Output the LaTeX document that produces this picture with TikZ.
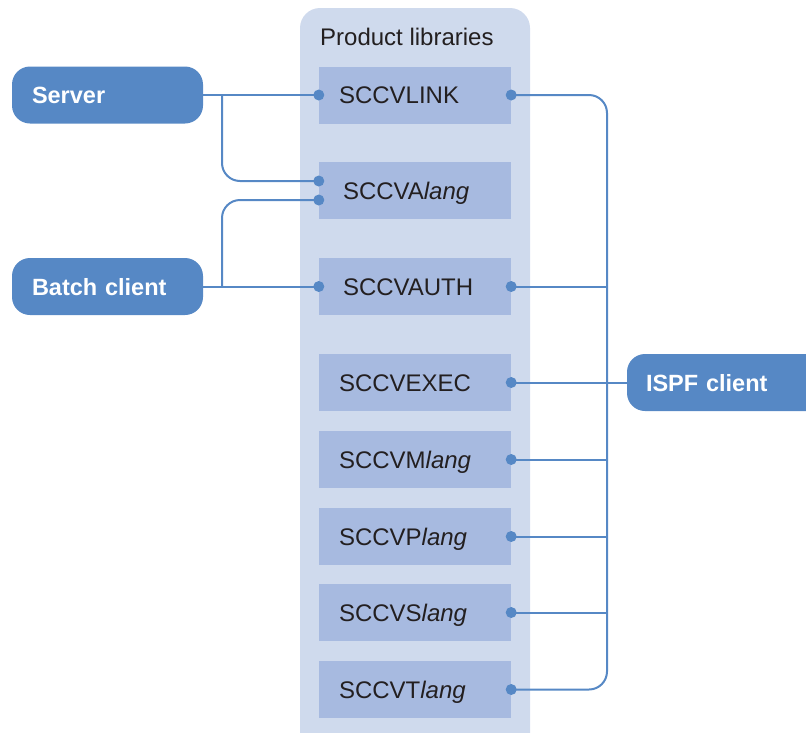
\documentclass[tikz,border=0pt]{standalone}
\usepackage{fontspec}
\setmainfont{Liberation Sans}
\definecolor{contbg}{HTML}{CFDAED}
\definecolor{libbg}{HTML}{A7BAE0}
\definecolor{nodeblue}{HTML}{5688C5}
\definecolor{txt}{HTML}{231F20}
\begin{document}
\begin{tikzpicture}[x=1pt,y=-1pt,
  lib/.style={fill=libbg, minimum width=192pt, minimum height=57pt, inner sep=0pt,
    text width=152pt, inner xsep=20pt, align=left, text height=17pt, text depth=0pt,
    font=\fontsize{24}{27}\selectfont, text=txt},
  libwide/.style={lib, text width=144pt, inner xsep=24pt},
  actor/.style={fill=nodeblue, rounded corners=18pt, minimum width=191pt, minimum height=57pt,
    inner sep=0pt, text width=151pt, inner xsep=20pt, align=left, text height=17pt, text depth=0pt,
    font=\fontsize{23.5}{27}\selectfont\bfseries, text=white},
  conn/.style={draw=nodeblue, line width=2pt},
  dotc/.style={fill=nodeblue}]
\useasboundingbox (0,0) rectangle (806,732);
% container
\fill[contbg, rounded corners=20pt] (300,8) rectangle (530,760);
\node[anchor=west, font=\fontsize{24}{27}\selectfont, text=txt, inner sep=0pt, text height=17pt, text depth=0pt] (title) at (320,37) {Product libraries};
% library boxes
\node[lib] (link) at (415,95) {SCCVLINK};
\node[libwide] (alang) at (415,190.5) {SCCVA\textit{lang}};
\node[libwide] (auth) at (415,286.5) {SCCVAUTH};
\node[lib] (exec) at (415,382.5) {SCCVEXEC};
\node[lib] (mlang) at (415,459.5) {SCCVM\textit{lang}};
\node[lib] (plang) at (415,536.5) {SCCVP\textit{lang}};
\node[lib] (slang) at (415,612.5) {SCCVS\textit{lang}};
\node[lib] (tlang) at (415,689.5) {SCCVT\textit{lang}};
% actors
\node[actor] (server) at (107.5,95) {Server};
\node[actor] (batch) at (107.5,286.5) {Batch client};
\node[actor, minimum width=213pt, text width=175pt, inner xsep=19pt] (ispf) at (733.5,382.5) {ISPF client};
% junction coordinates
\coordinate (sj) at (222,95);
\coordinate (bj) at (222,286.5);
\coordinate (a1) at ([yshift=9.5pt]alang.west);
\coordinate (a2) at ([yshift=-9.5pt]alang.west);
\coordinate (rt) at (607,95);
\coordinate (rb) at (607,689.5);
% left connectors
\draw[conn] (server.east) -- (link.west);
\draw[conn, rounded corners=18pt] (sj) |- (a1);
\draw[conn] (batch.east) -- (auth.west);
\draw[conn, rounded corners=18pt] (bj) |- (a2);
% right connectors
\draw[conn, rounded corners=18pt] (link.east) -- (rt) -- (rb) -- (tlang.east);
\draw[conn] (auth.east) -- (auth.east -| rt);
\draw[conn] (exec.east) -- (ispf.west);
\draw[conn] (mlang.east) -- (mlang.east -| rt);
\draw[conn] (plang.east) -- (plang.east -| rt);
\draw[conn] (slang.east) -- (slang.east -| rt);
% dots
\foreach \p in {link.west, a1, a2, auth.west, link.east, auth.east, exec.east, mlang.east, plang.east, slang.east, tlang.east}
  \fill[dotc] (\p) circle (5.5pt);
\end{tikzpicture}
\end{document}
